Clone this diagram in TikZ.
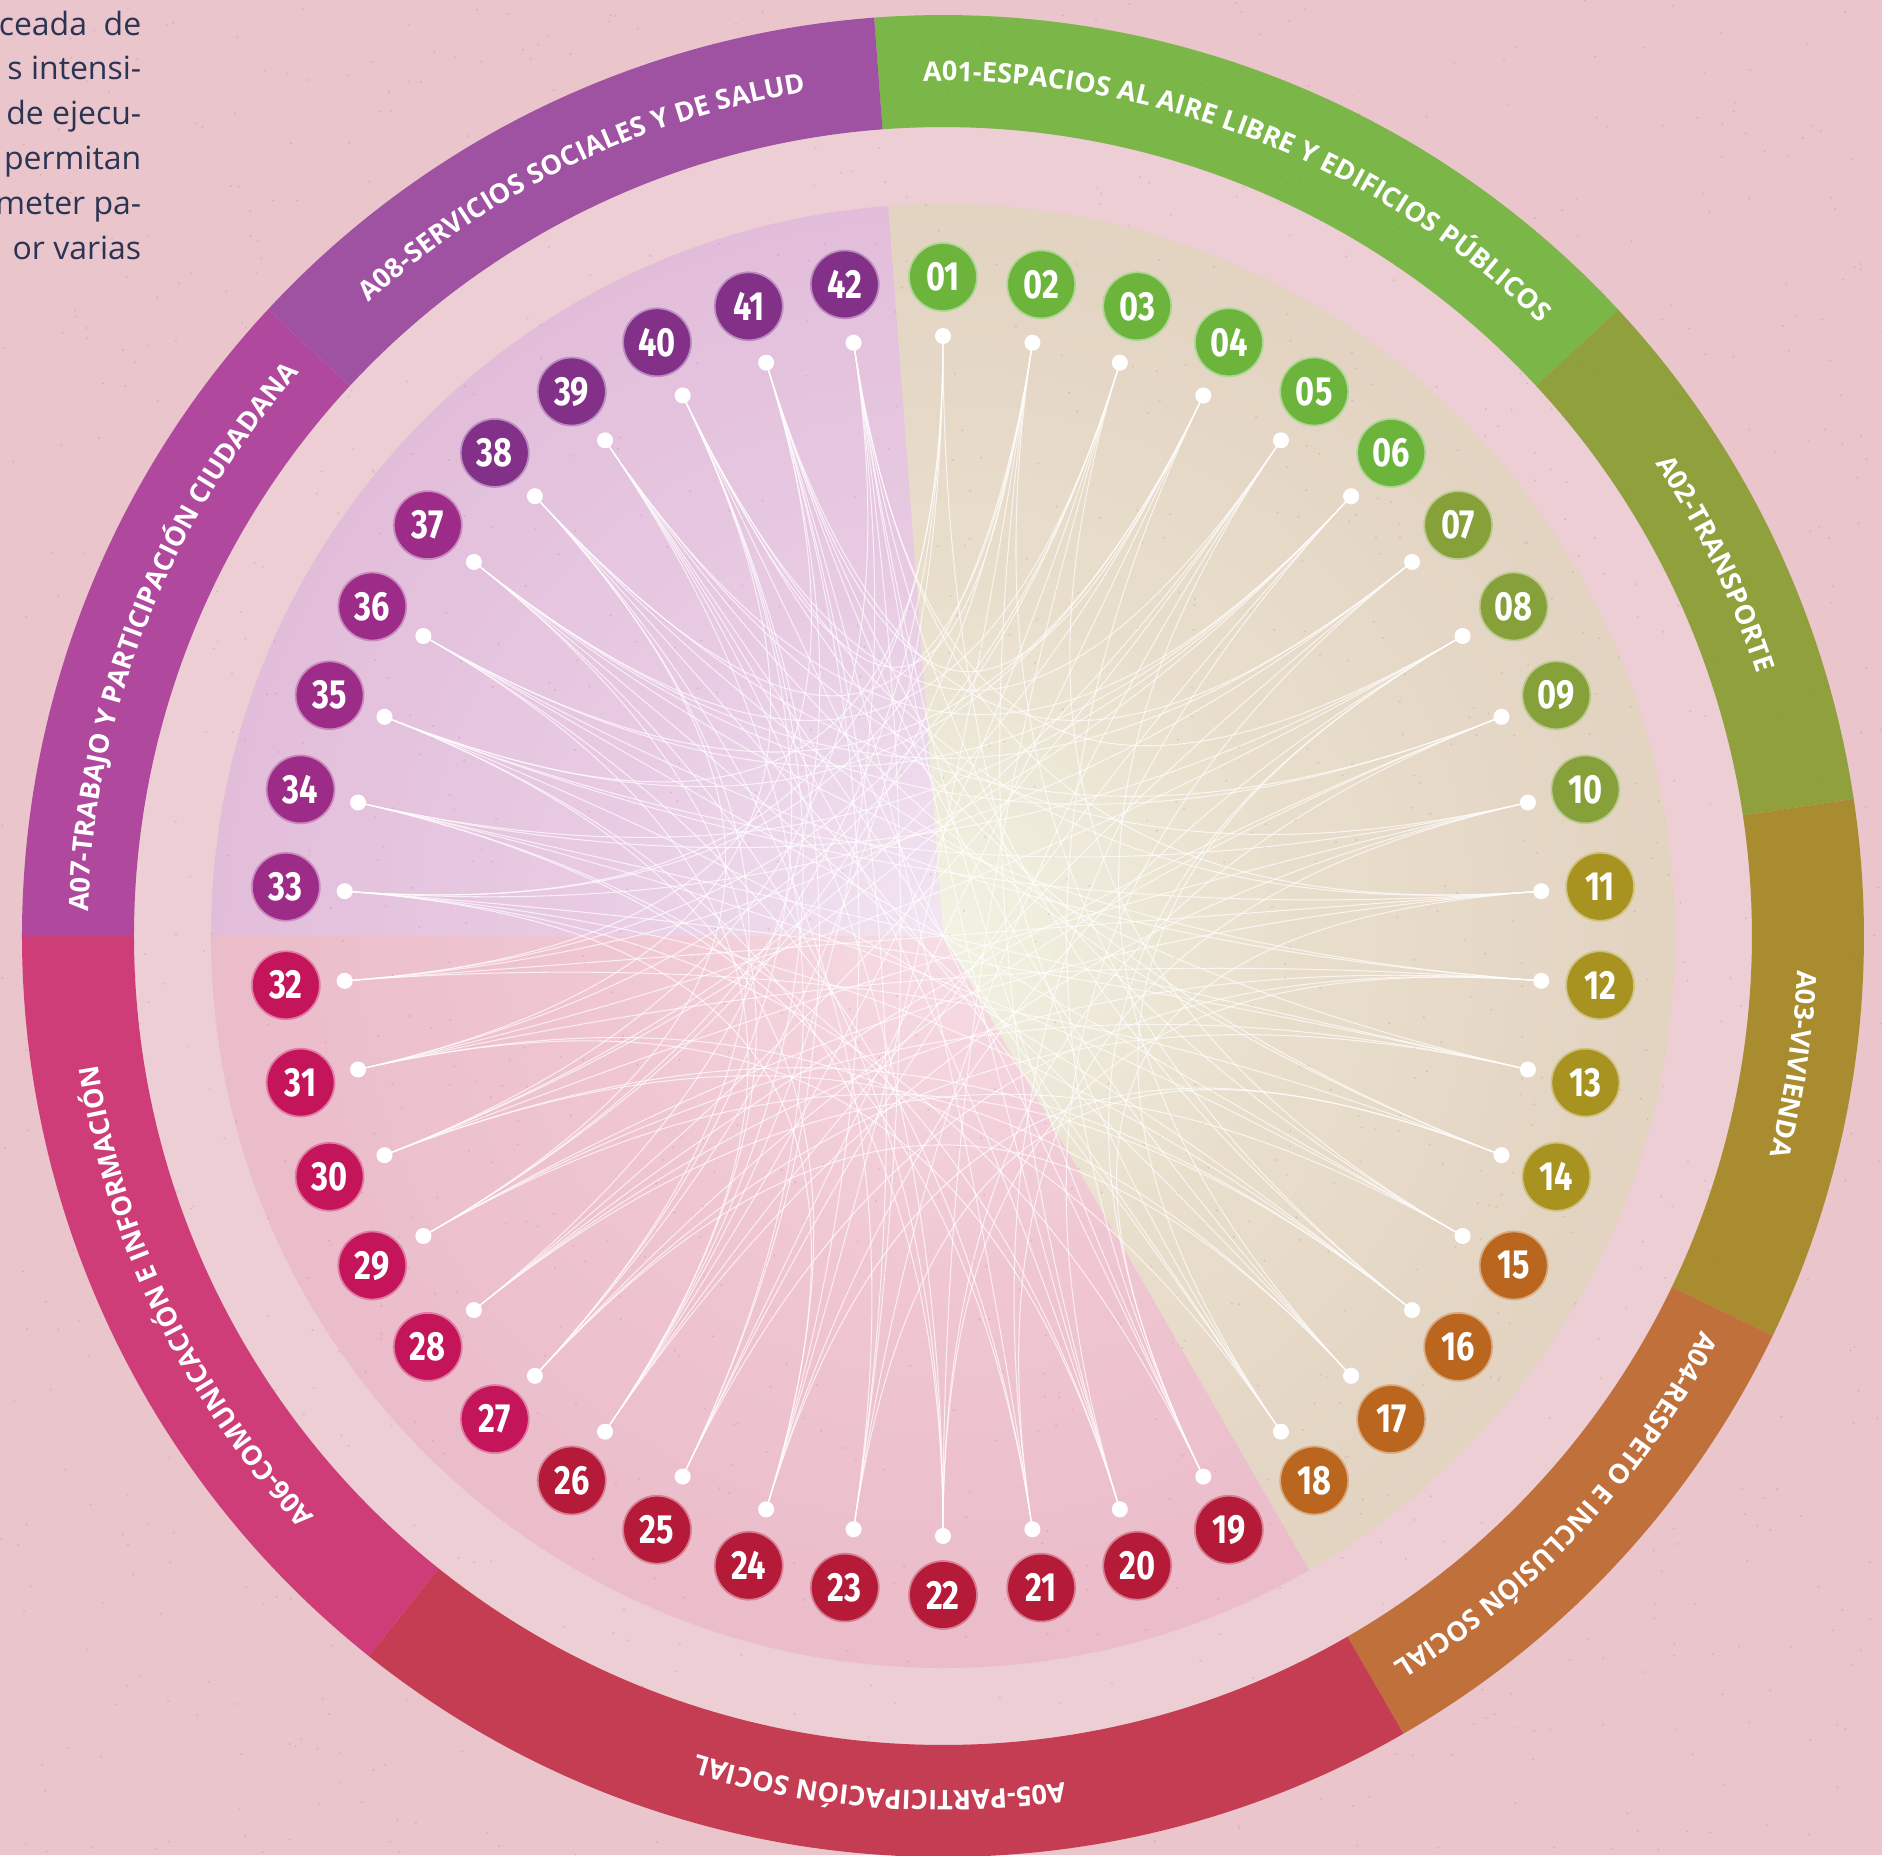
\documentclass[tikz,border=0pt]{standalone}
\usepackage{fontspec}
\setmainfont{Open Sans}
\newfontfamily\ringfont{Open Sans}
\newfontfamily\numfont[FakeStretch=0.8]{Fira Sans}
\usetikzlibrary{calc, decorations.text}

\definecolor{bgpink}{HTML}{EAC5CC}
\definecolor{gappink}{HTML}{EDCED4}
\definecolor{inkblue}{HTML}{2A3453}
\definecolor{speck}{HTML}{9A6A78}
\definecolor{ringA}{HTML}{7AB648}
\definecolor{ringB}{HTML}{8FA03D}
\definecolor{ringC}{HTML}{A88C2F}
\definecolor{ringD}{HTML}{C0703A}
\definecolor{ringE}{HTML}{C43D52}
\definecolor{ringF}{HTML}{CE3D78}
\definecolor{ringG}{HTML}{B0489E}
\definecolor{ringH}{HTML}{A052A2}
\definecolor{numA}{HTML}{6CB43C}
\definecolor{numB}{HTML}{87A13A}
\definecolor{numC}{HTML}{A89220}
\definecolor{numD}{HTML}{BA661E}
\definecolor{numE}{HTML}{B51A38}
\definecolor{numF}{HTML}{C4155A}
\definecolor{numG}{HTML}{9C2C88}
\definecolor{numH}{HTML}{823088}
\definecolor{lavIn}{HTML}{F3E6F3}
\definecolor{lavMid}{HTML}{E8CBE3}
\definecolor{lavOut}{HTML}{DCAFD0}
\definecolor{beigeIn}{HTML}{F2F3E3}
\definecolor{beigeMid}{HTML}{E9DECC}
\definecolor{beigeOut}{HTML}{DCC7B6}
\definecolor{pinkIn}{HTML}{F7DDE5}
\definecolor{pinkMid}{HTML}{EFC6D2}
\definecolor{pinkOut}{HTML}{E7B1C1}

\pgfdeclareradialshading{lavfade}{\pgfpoint{0bp}{0bp}}{color(0bp)=(lavIn); color(12bp)=(lavMid); color(38bp)=(lavOut); color(50bp)=(lavOut)}
\pgfdeclareradialshading{beigefade}{\pgfpoint{0bp}{0bp}}{color(0bp)=(beigeIn); color(12bp)=(beigeMid); color(38bp)=(beigeOut); color(50bp)=(beigeOut)}
\pgfdeclareradialshading{pinkfade}{\pgfpoint{0bp}{0bp}}{color(0bp)=(pinkIn); color(12bp)=(pinkMid); color(38bp)=(pinkOut); color(50bp)=(pinkOut)}

\newcommand\ringsize{\fontsize{7.7}{8}\selectfont}
\tikzstyle{num} = [circle, minimum size=0.68cm, inner sep=0pt, text=white, font={\numfont\bfseries\fontsize{11.6}{12}\selectfont}]
\tikzstyle{chord} = [white, line width=0.3pt, opacity=0.7]
\tikzset{arealabel/.style={decorate, decoration={text along path, text align=center, text color=white, text={|\ringfont\bfseries\ringsize|#1}}}}

\begin{document}
\begin{tikzpicture}
    \useasboundingbox (-9.43,-9.19) rectangle (9.39,9.36);
    \fill[bgpink] (-9.43,-9.19) rectangle (9.39,9.36);
    \fill[gappink] (0,0) circle (8.09);

    \foreach \s/\e/\c in {94.2857/42.8571/ringA, 42.8571/8.5714/ringB, 8.5714/-25.7143/ringC, -25.7143/-60/ringD,
                          -60/-128.5714/ringE, -128.5714/-180/ringF, -180/-222.8571/ringG, -222.8571/-265.7143/ringH}
        \fill[\c] (\s:9.21) arc[start angle=\s, end angle=\e, radius=9.21] -- (\e:8.09) arc[start angle=\e, end angle=\s, radius=8.09] -- cycle;

    \begin{scope}
        \clip (0,0) -- (94.2857:7.5) arc[start angle=94.2857, end angle=180, radius=7.5] -- cycle;
        \shade[shading=lavfade] (0,0) circle (7.32);
    \end{scope}
    \begin{scope}
        \clip (0,0) -- (-60:7.5) arc[start angle=-60, end angle=94.2857, radius=7.5] -- cycle;
        \shade[shading=beigefade] (0,0) circle (7.32);
    \end{scope}
    \begin{scope}
        \clip (0,0) -- (180:7.5) arc[start angle=180, end angle=300, radius=7.5] -- cycle;
        \shade[shading=pinkfade] (0,0) circle (7.32);
    \end{scope}

    \pgfmathsetseed{42}
    \foreach \k in {1,...,1400}
        \fill[speck, opacity=0.22] ({rnd*18.82-9.43},{rnd*18.55-9.19}) circle (0.011);

    \foreach \i in {1,...,42} {
        \pgfmathsetmacro\ang{90-(\i-1)*360/42}
        \coordinate (d\i) at (\ang:6.0);
    }

    \foreach \a/\b in {1/18, 1/27, 1/33, 2/20, 2/29, 2/38, 3/22, 3/31, 3/15, 4/25, 4/35, 4/19,
                       5/23, 5/30, 5/40, 6/21, 6/32, 6/36, 7/26, 7/33, 7/41, 8/24, 8/34, 8/19,
                       9/28, 9/37, 9/22, 10/30, 10/26, 10/39, 11/29, 11/35, 11/42, 12/25, 12/36, 12/31,
                       13/27, 13/38, 13/33, 14/32, 14/40, 14/24, 15/34, 15/28, 15/41, 16/35, 16/29, 16/2,
                       17/37, 17/30, 17/5, 18/39, 18/31, 18/8, 19/33, 19/40, 19/11, 20/34, 20/42, 20/7,
                       21/36, 21/41, 21/10, 22/37, 22/39, 22/12, 23/38, 23/42, 23/14, 24/35, 24/41, 24/2,
                       25/39, 25/40, 25/6, 26/37, 26/42, 26/3, 27/40, 27/9, 27/17, 28/41, 28/5, 28/12,
                       29/38, 29/1, 29/13, 30/42, 30/4, 30/16, 31/40, 31/8, 31/20, 32/41, 32/3, 32/11,
                       33/2, 33/16, 33/24, 34/6, 34/13, 34/21, 35/1, 35/10, 35/22, 36/4, 36/15, 36/26,
                       37/7, 37/12, 37/3, 38/9, 38/18, 38/27, 39/6, 39/14, 39/20, 40/2, 40/11, 40/26,
                       41/4, 41/17, 41/23, 42/8, 42/16, 42/19}
        \draw[chord] (d\a) .. controls ($0.3*(d\a)$) and ($0.3*(d\b)$) .. (d\b);

    \foreach \first/\last/\c in {1/6/numA, 7/10/numB, 11/14/numC, 15/18/numD, 19/26/numE, 27/32/numF, 33/37/numG, 38/42/numH}
        \foreach \i in {\first,...,\last} {
            \pgfmathsetmacro\ang{90-(\i-1)*360/42}
            \fill[white] (d\i) circle (0.08);
            \node[num, fill=\c, draw=\c!55!white, line width=0.5pt] (n\i) at (\ang:6.59) {\ifnum\i<10 0\fi\i};
        }

    \path[arealabel={A01-ESPACIOS AL AIRE LIBRE Y EDIFICIOS PÚBLICOS}] (95.8:8.55) arc[start angle=95.8, end angle=41.3, radius=8.55];
    \path[arealabel={A02-TRANSPORTE}] (42.8571:8.55) arc[start angle=42.8571, end angle=8.5714, radius=8.55];
    \path[arealabel={A03-VIVIENDA}] (8.5714:8.55) arc[start angle=8.5714, end angle=-25.7143, radius=8.55];
    \path[arealabel={A04-RESPETO E INCLUSIÓN SOCIAL}] (-24:8.55) arc[start angle=-24, end angle=-61.7, radius=8.55];
    \path[arealabel={A05-PARTICIPACIÓN SOCIAL}] (-60:8.55) arc[start angle=-60, end angle=-128.5714, radius=8.55];
    \path[arealabel={A06-COMUNICACIÓN E INFORMACIÓN}] (-128.5714:8.55) arc[start angle=-128.5714, end angle=-180, radius=8.55];
    \path[arealabel={A07-TRABAJO Y PARTICIPACIÓN CIUDADANA}] (-178.5:8.55) arc[start angle=-178.5, end angle=-224.3, radius=8.55];
    \path[arealabel={A08-SERVICIOS SOCIALES Y DE SALUD}] (-222.8571:8.55) arc[start angle=-222.8571, end angle=-265.7143, radius=8.55];

    \node[anchor=north east, align=right, inner sep=0pt, text=inkblue, font={\fontsize{9.1}{12.8}\selectfont}] (para) at (-8.01,9.26)
        {ceada\ \ de\\s intensi-\\de ejecu-\\permitan\\meter pa-\\or varias};
\end{tikzpicture}
\end{document}
